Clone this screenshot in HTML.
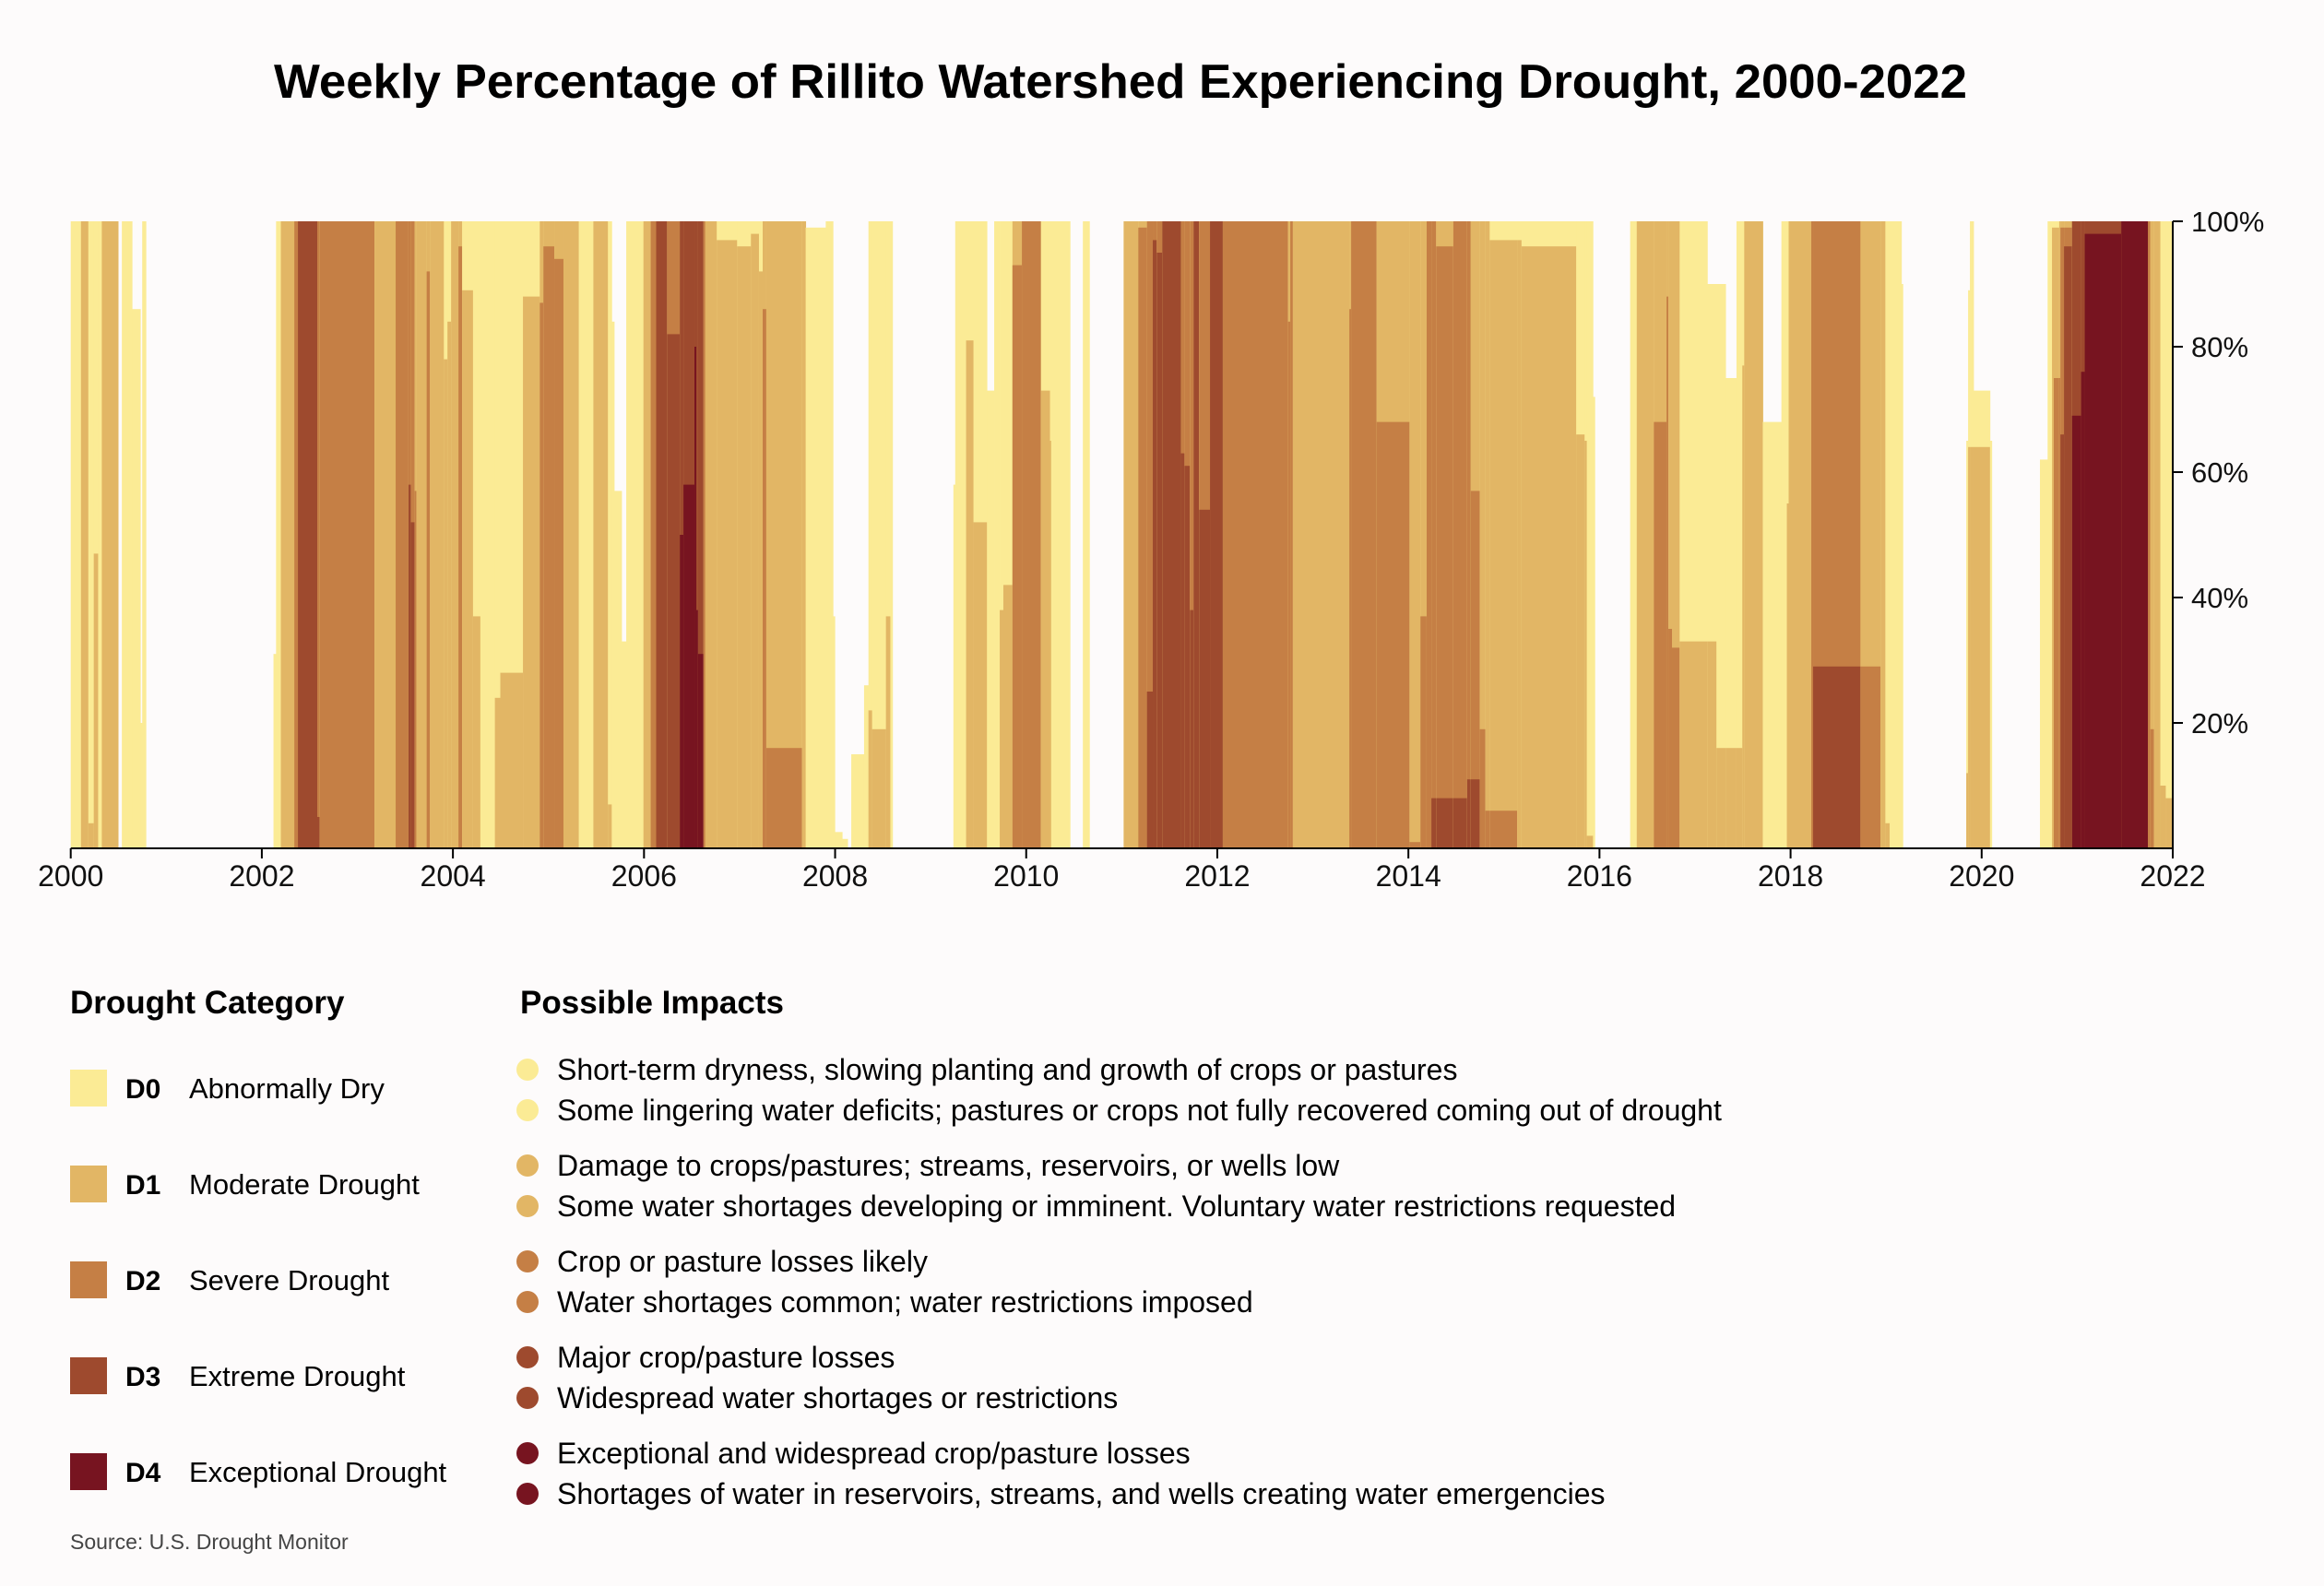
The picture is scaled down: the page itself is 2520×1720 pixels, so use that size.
<!DOCTYPE html>
<html><head><meta charset="utf-8">
<style>
html,body{margin:0;padding:0;background:#fdfbfb;}
svg{display:block;font-family:"Liberation Sans",sans-serif;}
</style></head>
<body>
<svg id="chart" width="2520" height="1720" viewBox="0 0 2520 1720" xmlns="http://www.w3.org/2000/svg">
<rect x="0" y="0" width="2520" height="1720" fill="#fdfbfb"/>
<text x="1215" y="106" text-anchor="middle" font-size="52" font-weight="bold" fill="#000" textLength="1836" lengthAdjust="spacingAndGlyphs">Weekly Percentage of Rillito Watershed Experiencing Drought, 2000-2022</text>
<g id="bars"></g>
<g id="axes"></g>
<g id="legend"></g>
<text x="76" y="1680" font-size="23" fill="#444">Source: U.S. Drought Monitor</text>
</svg>
<script>
// Segment end dates (decimal years); each segment starts where the previous ends (first starts 2000.0)
const segEnd = [
2000.107,2000.184,2000.241,2000.287,2000.325,2000.496,2000.535,2000.642,2000.729,2000.748,
2000.787,2002.122,2002.149,2002.199,2002.340,2002.378,2002.580,2002.607,2003.180,2003.401,
2003.535,2003.561,2003.600,2003.619,2003.725,2003.760,2003.905,2003.943,2003.981,2004.058,
2004.096,2004.210,2004.287,2004.439,2004.496,2004.733,2004.909,2004.947,2005.061,2005.157,
2005.317,2005.470,2005.622,2005.662,2005.688,2005.765,2005.814,2005.994,2006.070,2006.127,
2006.242,2006.375,2006.413,2006.528,2006.547,2006.566,2006.623,2006.642,2006.761,2006.974,
2007.119,2007.203,2007.242,2007.280,2007.654,2007.692,2007.902,2007.978,2007.997,2008.074,
2008.131,2008.169,2008.303,2008.349,2008.387,2008.532,2008.578,2008.601,2009.238,2009.257,
2009.371,2009.448,2009.589,2009.665,2009.723,2009.761,2009.856,2009.955,2010.154,2010.249,
2010.261,2010.459,2010.593,2010.662,2011.020,2011.173,2011.264,2011.325,2011.367,2011.424,
2011.619,2011.657,2011.714,2011.752,2011.810,2011.924,2012.058,2012.741,2012.764,2012.791,
2013.382,2013.401,2013.668,2014.012,2014.126,2014.191,2014.241,2014.291,2014.470,2014.615,
2014.653,2014.748,2014.806,2014.851,2015.138,2015.184,2015.756,2015.844,2015.867,2015.932,
2015.951,2016.321,2016.390,2016.569,2016.702,2016.721,2016.759,2016.839,2017.129,2017.224,
2017.320,2017.434,2017.495,2017.515,2017.709,2017.904,2017.961,2017.980,2018.217,2018.236,
2018.732,2018.942,2018.992,2019.037,2019.160,2019.175,2019.839,2019.858,2019.877,2019.915,
2020.087,2020.106,2020.610,2020.690,2020.736,2020.755,2020.812,2020.824,2020.862,2020.946,
2021.041,2021.079,2021.461,2021.740,2021.766,2021.804,2021.870,2021.927,2022.003];
// Cumulative percent of area in each category or worse
const d0 = [
100,100,100,100,100,100,0,100,86,20,
100,0,31,100,100,100,100,100,100,100,
100,100,100,100,100,100,100,100,100,100,
100,100,100,100,100,100,100,100,100,100,
100,100,100,100,84,57,33,100,100,100,
100,100,100,100,100,100,100,100,100,100,
100,100,100,100,100,100,99,100,37,2.6,
1.5,0,15,26,100,100,100,100,0,58,
100,100,100,73,100,100,100,100,100,100,
100,100,0,100,0,100,100,100,100,100,
100,100,100,100,100,100,100,100,100,100,
100,100,100,100,100,100,100,100,100,100,
100,100,100,100,100,100,100,100,100,100,
72,0,100,100,100,100,100,100,100,90,
90,75,100,100,100,68,100,100,100,100,
100,100,100,100,100,90,0,65,89,100,
73,65,0,62,100,100,100,100,100,100,
100,100,100,100,100,100,100,100,100];
const d1 = [
0,100,4,47,0,100,0,0,0,0,
0,0,0,0,100,100,100,100,100,100,
100,100,100,100,100,100,100,78,84,100,
100,89,37,0,24,28,88,100,100,100,
100,0,100,7,0,0,0,0,100,100,
100,100,100,100,100,100,100,100,100,97,
96,98,92,100,100,100,0,0,0,0,
0,0,0,0,22,19,37,0,0,0,
0,81,52,0,0,38,42,100,100,73,
65,0,0,0,0,100,100,100,100,100,
100,100,100,100,100,100,100,100,100,100,
100,100,100,100,100,100,100,100,100,100,
100,100,100,100,97,97,96,66,65,2,
0,0,0,100,100,100,100,100,33,33,
16,16,16,77,100,0,0,55,100,100,
100,100,100,4,0,0,0,12,64,64,
64,0,0,0,0,99,99,100,100,100,
100,100,100,100,100,100,100,10,8];
const d2 = [
0,0,0,0,0,0,0,0,0,0,
0,0,0,0,0,100,100,100,100,0,
100,100,100,57,0,92,0,0,0,0,
96,0,0,0,0,0,0,87,96,94,
0,0,0,0,0,0,0,0,0,100,
100,100,100,100,100,100,100,100,0,0,
0,0,0,86,16,0,0,0,0,0,
0,0,0,0,0,0,0,0,0,0,
0,0,0,0,0,0,0,93,100,0,
0,0,0,0,0,0,99,100,100,100,
100,100,100,100,100,100,100,100,84,100,
0,86,100,68,1,37,100,100,96,100,
100,57,19,6,6,0,0,0,0,0,
0,0,0,0,68,88,35,32,0,0,
0,0,0,0,0,0,0,0,0,100,
100,29,0,0,0,0,0,0,0,0,
0,0,0,0,0,0,75,75,99,99,
100,100,100,100,100,19,0,0,0];
const d3 = [
0,0,0,0,0,0,0,0,0,0,
0,0,0,0,0,0,100,5,0,0,
0,58,52,0,0,0,0,0,0,0,
0,0,0,0,0,0,0,0,0,0,
0,0,0,0,0,0,0,0,0,0,
100,82,100,100,100,100,100,0,0,0,
0,0,0,0,0,0,0,0,0,0,
0,0,0,0,0,0,0,0,0,0,
0,0,0,0,0,0,0,0,0,0,
0,0,0,0,0,0,0,25,97,95,
100,63,61,38,100,54,100,0,0,0,
0,0,0,0,0,0,0,8,8,8,
11,11,0,0,0,0,0,0,0,0,
0,0,0,0,0,0,0,0,0,0,
0,0,0,0,0,0,0,0,0,0,
29,0,0,0,0,0,0,0,0,0,
0,0,0,0,0,0,0,0,66,96,
100,100,100,100,0,0,0,0,0];
const d4 = [
0,0,0,0,0,0,0,0,0,0,
0,0,0,0,0,0,0,0,0,0,
0,0,0,0,0,0,0,0,0,0,
0,0,0,0,0,0,0,0,0,0,
0,0,0,0,0,0,0,0,0,0,
0,0,50,58,80,38,31,0,0,0,
0,0,0,0,0,0,0,0,0,0,
0,0,0,0,0,0,0,0,0,0,
0,0,0,0,0,0,0,0,0,0,
0,0,0,0,0,0,0,0,0,0,
0,0,0,0,0,0,0,0,0,0,
0,0,0,0,0,0,0,0,0,0,
0,0,0,0,0,0,0,0,0,0,
0,0,0,0,0,0,0,0,0,0,
0,0,0,0,0,0,0,0,0,0,
0,0,0,0,0,0,0,0,0,0,
0,0,0,0,0,0,0,0,0,0,
69,76,98,100,0,0,0,0,0];
const yearTicks = [2000,2002,2004,2006,2008,2010,2012,2014,2016,2018,2020,2022];
const pctTicks = [20,40,60,80,100];
const catCodes = ["D0","D1","D2","D3","D4"];
const catNames = ["Abnormally Dry","Moderate Drought","Severe Drought","Extreme Drought","Exceptional Drought"];
const impacts = [
 ["Short-term dryness, slowing planting and growth of crops or pastures","Some lingering water deficits; pastures or crops not fully recovered coming out of drought"],
 ["Damage to crops/pastures; streams, reservoirs, or wells low","Some water shortages developing or imminent. Voluntary water restrictions requested"],
 ["Crop or pasture losses likely","Water shortages common; water restrictions imposed"],
 ["Major crop/pasture losses","Widespread water shortages or restrictions"],
 ["Exceptional and widespread crop/pasture losses","Shortages of water in reservoirs, streams, and wells creating water emergencies"]
];
const colors = ["#fbeb95","#e2b665","#c57f45","#9e4a2e","#771420"];

const NS = "http://www.w3.org/2000/svg";
const X0 = 76.7, X1 = 2356, YT = 240, YB = 920;
const xScale = y => X0 + (y - 2000) / 22 * (X1 - X0);
const yScale = p => YB - p / 100 * (YB - YT);
function mk(tag, attrs, parent){ const e = document.createElementNS(NS, tag); for (const k in attrs) e.setAttribute(k, attrs[k]); parent.appendChild(e); return e; }

const bars = document.getElementById('bars');
const series = [d0,d1,d2,d3,d4];
let start = 2000;
for (let i = 0; i < segEnd.length; i++) {
  const xa = xScale(start), xb = xScale(Math.min(segEnd[i], 2022));
  for (let c = 0; c < 5; c++) {
    const v = series[c][i] || 0;
    if (v > 0) {
      const r = mk('rect', {x: xa.toFixed(2), y: yScale(v).toFixed(2), width: Math.max(0.5, xb - xa + 0.4).toFixed(2), height: (YB - yScale(v)).toFixed(2), fill: colors[c]}, bars);
      
      
    }
  }
  start = segEnd[i];
}

const axes = document.getElementById('axes');
const xl = mk('line', {x1: X0, y1: YB, x2: X1 + 1, y2: YB, stroke: '#000', 'stroke-width': 2}, axes);


const yl = mk('line', {x1: X1, y1: YT, x2: X1, y2: YB + 1, stroke: '#000', 'stroke-width': 2}, axes);


yearTicks.forEach(yr => {
  const x = xScale(yr);
  const t = mk('line', {x1: x, y1: YB, x2: x, y2: YB + 11, stroke: '#000', 'stroke-width': 2}, axes);
  
  
  const l = mk('text', {x: x, y: 961, 'text-anchor': 'middle', 'font-size': 32, fill: '#111'}, axes);
  l.textContent = yr;
  
  
});
pctTicks.forEach(p => {
  const y = yScale(p);
  const t = mk('line', {x1: X1, y1: y, x2: X1 + 11, y2: y, stroke: '#000', 'stroke-width': 2}, axes);
  
  
  const l = mk('text', {x: 2376, y: y + 11, 'font-size': 31, fill: '#111'}, axes);
  l.textContent = p + '%';
  
  
});

const lg = document.getElementById('legend');
const h1 = mk('text', {x: 76, y: 1099, 'font-size': 35, 'font-weight': 'bold', fill: '#000'}, lg);
h1.textContent = 'Drought Category';


const h2 = mk('text', {x: 564, y: 1099, 'font-size': 35, 'font-weight': 'bold', fill: '#000'}, lg);
h2.textContent = 'Possible Impacts';


for (let i = 0; i < 5; i++) {
  const yc = 1180 + i * 104;
  const sq = mk('rect', {x: 76, y: yc - 20, width: 40, height: 40, fill: colors[i]}, lg);
  
  
  const c = mk('text', {x: 136, y: yc + 11, 'font-size': 30, 'font-weight': 'bold', fill: '#000'}, lg);
  c.textContent = catCodes[i];
  
  
  const n = mk('text', {x: 205, y: yc + 11, 'font-size': 31, fill: '#000'}, lg);
  n.textContent = catNames[i];
  
  
  for (let j = 0; j < 2; j++) {
    const cy = 1160 + i * 104 + j * 44;
    const dot = mk('circle', {cx: 572, cy: cy, r: 12, fill: colors[i]}, lg);
    
    
    const t = mk('text', {x: 604, y: cy + 11, 'font-size': 32, fill: '#000'}, lg);
    t.textContent = impacts[i][j];
    
    
  }
}
</script>
</body></html>
